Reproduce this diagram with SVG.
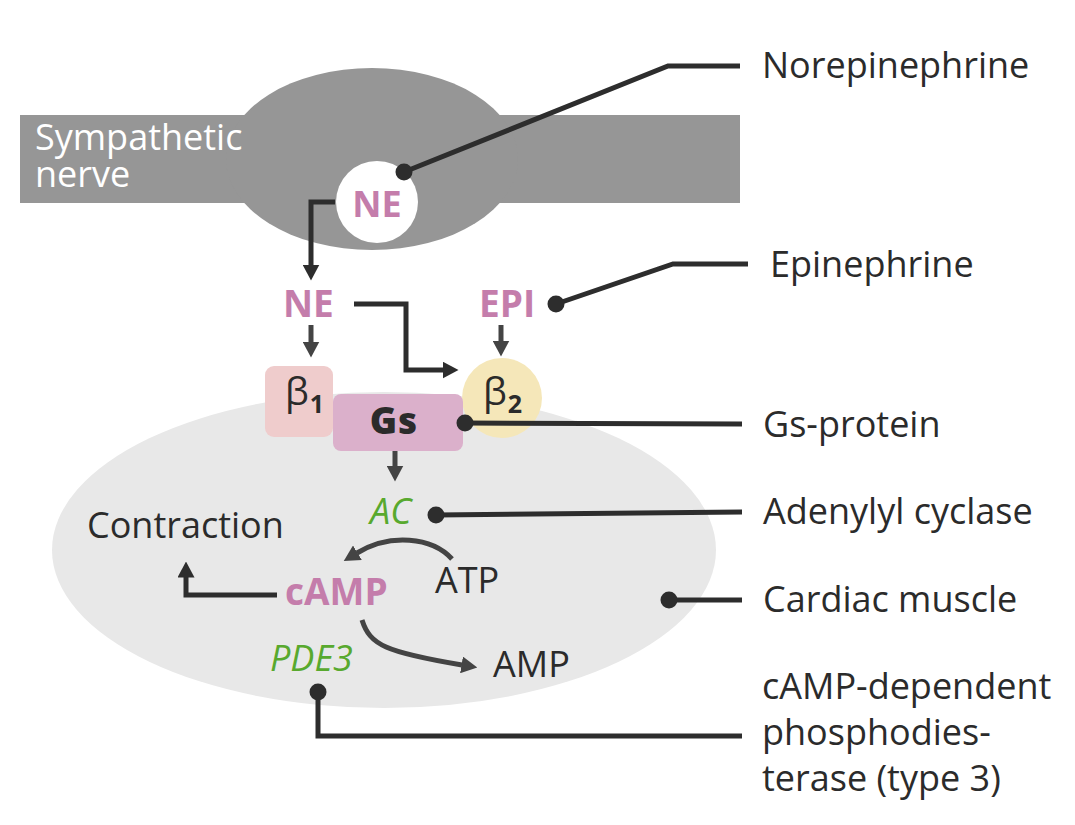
<svg xmlns="http://www.w3.org/2000/svg" width="1075" height="825" viewBox="0 0 1075 825">
<defs>
<style>
.lbl{font-family:"Open Sans","Liberation Sans",sans-serif;font-size:36px;fill:#2b2b2b}
.pink{font-family:"Open Sans","Liberation Sans",sans-serif;font-weight:bold;font-size:37px;fill:#c47dab}
.green{font-family:"Open Sans","Liberation Sans",sans-serif;font-style:italic;font-size:36px;fill:#58a92e}
.beta{font-family:"Open Sans","DejaVu Sans",sans-serif;font-size:38px;fill:#2b2b2b}
.sub{font-family:"Open Sans","Liberation Sans",sans-serif;font-weight:bold;font-size:25px}
.lead{fill:none;stroke:#2d2d2d;stroke-width:5}
.arr{fill:none;stroke:#2d2d2d;stroke-width:5}
.arr2{fill:none;stroke:#444;stroke-width:5}
.dot{fill:#2d2d2d}
</style>
<marker id="ah" markerUnits="userSpaceOnUse" viewBox="0 0 16 17" markerWidth="16" markerHeight="17" refX="0.5" refY="8.5" orient="auto"><path d="M0,0 L16,8.5 L0,17 Z" fill="#2d2d2d"/></marker>
<marker id="ah2" markerUnits="userSpaceOnUse" viewBox="0 0 16 17" markerWidth="16" markerHeight="17" refX="0.5" refY="8.5" orient="auto"><path d="M0,0 L16,8.5 L0,17 Z" fill="#444"/></marker>
</defs>
<rect width="1075" height="825" fill="#fff"/>

<g id="nerve">
<rect x="20" y="115" width="720" height="88" fill="#969696"/>
<ellipse cx="372" cy="159" rx="146" ry="91" fill="#969696"/>
<text class="lbl" style="fill:#fff"><tspan x="35" y="150">Sympathetic</tspan><tspan x="35" y="187">nerve</tspan></text>
</g>
<g id="ne-vesicle">
<circle cx="377" cy="202" r="41" fill="#fff"/>
<text x="377" y="217" class="pink" text-anchor="middle" style="font-size:36px">NE</text>
</g>

<g id="cardiac">
<ellipse cx="384" cy="550" rx="332" ry="158" fill="#e8e8e8"/>
</g>

<g id="ne">
<text x="283" y="317" class="pink">NE</text>
</g>
<g id="epi">
<text x="479" y="317" class="pink">EPI</text>
</g>
<g id="beta1">
<rect x="265" y="366" width="68" height="71" rx="9" fill="#efcccc"/>
<text x="285" y="405" class="beta">β<tspan class="sub" dx="1" dy="8">1</tspan></text>
</g>
<g id="beta2">
<circle cx="502" cy="398" r="40" fill="#f5e7b9"/>
<text x="483" y="405" class="beta">β<tspan class="sub" dx="1" dy="8">2</tspan></text>
</g>
<g id="gs">
<rect x="333" y="394" width="130" height="57" rx="8" fill="#dbb0cb"/>
<text x="394" y="434" text-anchor="middle" style="font-family:'Open Sans','Liberation Sans',sans-serif;font-weight:800;font-size:37px;fill:#2b2b2b;letter-spacing:1px">Gs</text>
</g>
<g id="ac"><text x="370" y="524" class="green">AC</text></g>
<g id="contraction"><text x="87" y="538" class="lbl">Contraction</text></g>
<g id="camp"><text x="285" y="605" class="pink">cAMP</text></g>
<g id="atp"><text x="435" y="593" class="lbl">ATP</text></g>
<g id="amp"><text x="493" y="677" class="lbl">AMP</text></g>
<g id="pde3"><text x="270" y="671" class="green">PDE3</text></g>

<g id="labels">
<text x="762" y="78" class="lbl">Norepinephrine</text>
<text x="770" y="277" class="lbl">Epinephrine</text>
<text x="763" y="437" class="lbl">Gs-protein</text>
<text x="763" y="524" class="lbl">Adenylyl cyclase</text>
<text x="763" y="612" class="lbl">Cardiac muscle</text>
<text class="lbl"><tspan x="762" y="699">cAMP-dependent</tspan><tspan x="762" y="745">phosphodies-</tspan><tspan x="762" y="791">terase (type 3)</tspan></text>
</g>

<g id="connectors">
<path class="arr" d="M335,202 H311 V265" marker-end="url(#ah)"/>
<path class="arr2" d="M311,325 V342" marker-end="url(#ah2)"/>
<path class="arr2" d="M501,325 V341" marker-end="url(#ah2)"/>
<path class="arr" d="M354,304 H406 V370 H443" marker-end="url(#ah)"/>
<path class="arr2" d="M395,451 V466" marker-end="url(#ah2)"/>
<path class="arr" d="M277,595 H186 V577" marker-end="url(#ah)"/>
<path class="arr2" d="M452,559 C432,537 390,533 357,553" marker-end="url(#ah2)"/>
<path class="arr2" d="M362,620 C370,645 385,652 462,665" marker-end="url(#ah2)"/>

<path class="lead" d="M404,172 L668,66 H740"/>
<circle class="dot" cx="404" cy="172" r="8.5"/>
<path class="lead" d="M556,304 L673,264 H748"/>
<circle class="dot" cx="556" cy="304" r="8.5"/>
<path class="lead" d="M465,423 L742,424"/>
<circle class="dot" cx="465" cy="423" r="8.5"/>
<path class="lead" d="M436,515 L742,512"/>
<circle class="dot" cx="436" cy="515" r="8.5"/>
<path class="lead" d="M669,600 H742"/>
<circle class="dot" cx="669" cy="600" r="8.5"/>
<path class="lead" d="M318,692 V736 H742"/>
<circle class="dot" cx="318" cy="692" r="8.5"/>
</g>
</svg>
